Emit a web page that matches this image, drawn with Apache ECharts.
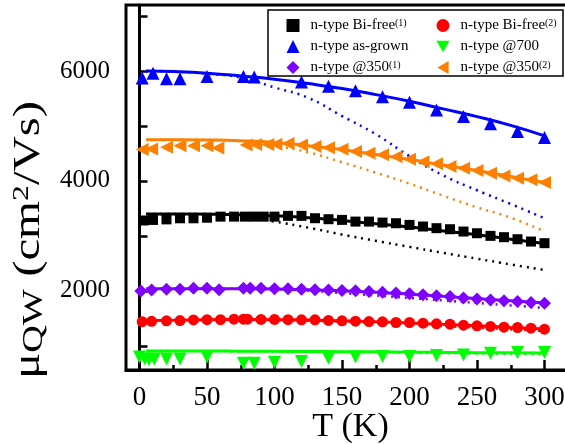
<!DOCTYPE html>
<html>
<head>
<meta charset="utf-8">
<script src="https://cdn.jsdelivr.net/npm/echarts@6/dist/echarts.min.js"></script>
<style>
  html, body { margin: 0; padding: 0; background: #fff; }
  #chart { width: 565px; height: 444px; }
</style>
</head>
<body>
<div id="chart"></div>
<script>
// Measured mobility points, T in K, mu in cm^2/Vs
const tBiFree1 = [3, 10, 20, 30, 40, 50, 60, 70, 78, 85, 92, 100, 110, 120, 130, 140, 150, 160, 170, 180, 190, 200, 210, 220, 230, 240, 250, 260, 270, 280, 290, 300];
const muBiFree1 = [3280, 3290, 3300, 3320, 3320, 3330, 3350, 3350, 3350, 3350, 3350, 3350, 3364, 3364, 3321, 3303, 3291, 3260, 3260, 3242, 3230, 3200, 3170, 3140, 3121, 3079, 3048, 3000, 2976, 2939, 2897, 2867];

const tBiFree2 = [2, 9, 20, 30, 40, 50, 60, 70, 77, 80, 90, 100, 110, 120, 130, 140, 150, 160, 170, 180, 190, 200, 210, 220, 230, 240, 250, 260, 270, 280, 290, 300];
const muBiFree2 = [1440, 1445, 1455, 1460, 1470, 1475, 1475, 1485, 1485, 1485, 1480, 1480, 1475, 1473, 1473, 1461, 1455, 1448, 1442, 1436, 1424, 1424, 1412, 1400, 1394, 1376, 1364, 1352, 1339, 1333, 1321, 1303];

const tAsGrown = [2, 10, 20, 30, 50, 77, 85, 120, 140, 160, 180, 200, 220, 240, 260, 280, 300];
const muAsGrown = [5870, 5960, 5860, 5860, 5900, 5900, 5890, 5800, 5720, 5640, 5530, 5430, 5290, 5170, 5040, 4900, 4790];

const t700 = [0, 4, 7, 11, 20, 30, 50, 77, 85, 100, 120, 140, 160, 180, 200, 220, 240, 260, 280, 300];
const mu700 = [795, 760, 745, 760, 760, 760, 795, 685, 685, 700, 715, 775, 795, 805, 805, 825, 835, 865, 880, 880];

const t350a = [1, 9, 20, 30, 40, 50, 59, 77, 82, 90, 100, 110, 120, 130, 140, 150, 160, 170, 180, 190, 200, 210, 220, 230, 240, 250, 260, 270, 280, 290, 300];
const mu350a = [1995, 2015, 2030, 2030, 2045, 2045, 2020, 2045, 2045, 2045, 2040, 2040, 2030, 2020, 2015, 2005, 2000, 1990, 1975, 1960, 1945, 1930, 1910, 1895, 1870, 1850, 1835, 1820, 1805, 1790, 1775];

const t350b = [2, 9, 20, 30, 40, 50, 58, 79, 86, 95, 101, 110, 120, 130, 140, 150, 160, 170, 180, 190, 200, 210, 220, 230, 240, 250, 260, 270, 280, 290, 300];
const mu350b = [4570, 4580, 4610, 4640, 4640, 4640, 4600, 4655, 4660, 4660, 4665, 4680, 4655, 4625, 4605, 4575, 4535, 4505, 4475, 4440, 4395, 4350, 4310, 4260, 4230, 4190, 4140, 4090, 4050, 4020, 3970];

// Fitted curves (solid) and model curves (dotted), sampled on a common T grid
const fitT = [5, 25, 50, 75, 100, 125, 150, 175, 200, 225, 250, 275, 300];
const fitBiFree1 = [3400, 3400, 3395, 3385, 3365, 3330, 3280, 3220, 3160, 3090, 3020, 2940, 2860];
const modelBiFree1 = [3400, 3400, 3390, 3360, 3260, 3150, 3025, 2910, 2800, 2690, 2585, 2480, 2380];
const fitBiFree2 = [1460, 1465, 1475, 1478, 1475, 1468, 1455, 1437, 1415, 1390, 1365, 1335, 1305];
const modelBiFree2 = [1460, 1465, 1475, 1476, 1470, 1458, 1440, 1415, 1390, 1360, 1330, 1300, 1270];
const fitAsGrown = [6000, 5990, 5960, 5910, 5850, 5770, 5680, 5570, 5450, 5310, 5170, 5010, 4820];
const modelAsGrown = [6000, 5990, 5950, 5880, 5700, 5510, 5180, 4850, 4450, 4100, 3830, 3580, 3320];
const fit700 = [905, 905, 905, 903, 900, 897, 893, 890, 885, 880, 876, 873, 870];
const model700 = [905, 905, 905, 902, 898, 893, 887, 880, 873, 866, 860, 853, 845];
const fit350a = [2040, 2040, 2040, 2040, 2035, 2020, 2000, 1975, 1940, 1900, 1860, 1820, 1780];
const model350a = [2040, 2040, 2040, 2038, 2030, 2000, 1960, 1915, 1870, 1825, 1780, 1735, 1690];
const fit350b = [4750, 4750, 4745, 4730, 4700, 4640, 4570, 4480, 4390, 4290, 4190, 4080, 3970];
const model350b = [4750, 4750, 4745, 4720, 4640, 4520, 4340, 4150, 3950, 3730, 3520, 3330, 3080];

// Axis ticks and labels
const xTicksMajor = [0, 50, 100, 150, 200, 250, 300];
const xTicksMinor = [25, 75, 125, 175, 225, 275];
const yTicks = [1000, 2000, 3000, 4000, 5000, 6000, 7000];
const yLabels = [2000, 4000, 6000];

const SERIF = '"Liberation Serif", "Times New Roman", serif';

// Legend icons for the rotated triangles
const ICON_DOWN = 'path://M0,0 L10,0 L5,8.66 Z';
const ICON_LEFT = 'path://M0,5 L8.66,0 L8.66,10 Z';

const pairs = (xs, ys) => xs.map((x, i) => [x, ys[i]]);

const groups = [
  { name: 'n-type Bi-free(1)', color: '#000000', symbol: 'rect', size: 10, rot: 0, icon: 'rect', t: tBiFree1, mu: muBiFree1, fit: fitBiFree1, model: modelBiFree1 },
  { name: 'n-type Bi-free(2)', color: '#ff0000', symbol: 'circle', size: 11, rot: 0, icon: 'circle', t: tBiFree2, mu: muBiFree2, fit: fitBiFree2, model: modelBiFree2 },
  { name: 'n-type as-grown', color: '#0000ff', symbol: 'triangle', size: 13, rot: 0, icon: 'triangle', t: tAsGrown, mu: muAsGrown, fit: fitAsGrown, model: modelAsGrown },
  { name: 'n-type @700', color: '#00ff00', symbol: 'triangle', size: 13, rot: 180, icon: ICON_DOWN, t: t700, mu: mu700, fit: fit700, model: model700 },
  { name: 'n-type @350(1)', color: '#7f00ff', symbol: 'diamond', size: 13, rot: 0, icon: 'diamond', t: t350a, mu: mu350a, fit: fit350a, model: model350a },
  { name: 'n-type @350(2)', color: '#ff8000', symbol: 'triangle', size: 13, rot: 90, icon: ICON_LEFT, t: t350b, mu: mu350b, fit: fit350b, model: model350b }
];

const series = [];
groups.forEach(g => {
  series.push({
    type: 'line', name: g.name + ' model', data: pairs(fitT, g.model),
    showSymbol: false, smooth: true, silent: true, z: 2,
    lineStyle: { color: g.color, width: 2.5, type: [2, 5] }
  });
  series.push({
    type: 'line', name: g.name + ' fit', data: pairs(fitT, g.fit),
    showSymbol: false, smooth: true, silent: true, z: 3,
    lineStyle: { color: g.color, width: 3 }
  });
});
groups.forEach(g => {
  series.push({
    type: 'scatter', name: g.name, data: pairs(g.t, g.mu),
    symbol: g.symbol, symbolSize: g.size, symbolRotate: g.rot, z: 4,
    itemStyle: { color: g.color, opacity: 1 }
  });
});

const legendFormatter = name => name.replace(/\((\d)\)$/, '{sup|($1)}');
const legendItem = g => ({ name: g.name, icon: g.icon, itemStyle: { color: g.color } });
const legendCommon = {
  orient: 'vertical', top: 13, itemWidth: 13, itemHeight: 13, itemGap: 6,
  selectedMode: false, z: 10,
  formatter: legendFormatter,
  textStyle: {
    fontFamily: SERIF, fontSize: 15, color: '#000', padding: [0, 0, 0, 6],
    rich: { sup: { fontFamily: SERIF, fontSize: 10, color: '#000', verticalAlign: 'top', padding: [0, 0, 5, 0] } }
  }
};

const chart = echarts.init(document.getElementById('chart'), null, { renderer: 'canvas' });
chart.setOption({
  backgroundColor: '#fff',
  animation: false,
  grid: {
    left: 126, top: 5, width: 459, height: 365,
    outerBoundsMode: 'none', containLabel: false,
    show: true, borderColor: '#000', borderWidth: 3, backgroundColor: 'transparent'
  },
  xAxis: [{
    type: 'value', min: -10, max: 330,
    name: 'T (K)', nameLocation: 'middle', nameGap: 40, nameMoveOverlap: false,
    nameTextStyle: { fontFamily: SERIF, fontSize: 34, color: '#000', padding: [0, 10, 0, 0] },
    axisLine: { show: true, lineStyle: { color: '#000', width: 3 } },
    axisTick: { show: true, inside: true, length: 10, customValues: xTicksMajor, lineStyle: { color: '#000', width: 2.5 } },
    axisLabel: { customValues: xTicksMajor, margin: 14, fontFamily: SERIF, fontSize: 27, color: '#000' },
    splitLine: { show: false }
  }, {
    type: 'value', min: -10, max: 330, position: 'bottom',
    axisLine: { show: false },
    axisTick: { show: true, inside: true, length: 5, customValues: xTicksMinor, lineStyle: { color: '#000', width: 2.5 } },
    axisLabel: { show: false },
    splitLine: { show: false }
  }],
  yAxis: {
    type: 'value', min: 560, max: 7200,
    axisLine: { show: true, lineStyle: { color: '#000', width: 3 } },
    axisTick: { show: true, inside: true, length: 8, customValues: yTicks, lineStyle: { color: '#000', width: 2.5 } },
    axisLabel: { customValues: yLabels, margin: 16, fontFamily: SERIF, fontSize: 25, color: '#000', formatter: v => String(v) },
    splitLine: { show: false }
  },
  legend: [
    Object.assign({}, legendCommon, { left: 281.5, data: [legendItem(groups[0]), legendItem(groups[2]), legendItem(groups[4])] }),
    Object.assign({}, legendCommon, { left: 431.5, data: [legendItem(groups[1]), legendItem(groups[3]), legendItem(groups[5])] })
  ],
  graphic: [
    {
      type: 'rect', z: 9,
      shape: { x: 268, y: 10, width: 295, height: 66 },
      style: { fill: '#fff', stroke: '#000', lineWidth: 1.5 }
    },
    {
      type: 'text', z: 9, x: 29, y: 240, rotation: Math.PI / 2, scaleX: 1.32,
      style: {
        text: 'μ{sub|QW} (cm{sup|2}/Vs)',
        font: '37px ' + SERIF, fill: '#000',
        align: 'center', verticalAlign: 'middle',
        rich: {
          sub: { fontFamily: SERIF, fontSize: 29, fill: '#000', verticalAlign: 'bottom', padding: [10, 0, 0, 0] },
          sup: { fontFamily: SERIF, fontSize: 24, fill: '#000', verticalAlign: 'top', padding: [0, 0, 12, 0] }
        }
      }
    }
  ],
  series: series
});
</script>
</body>
</html>
